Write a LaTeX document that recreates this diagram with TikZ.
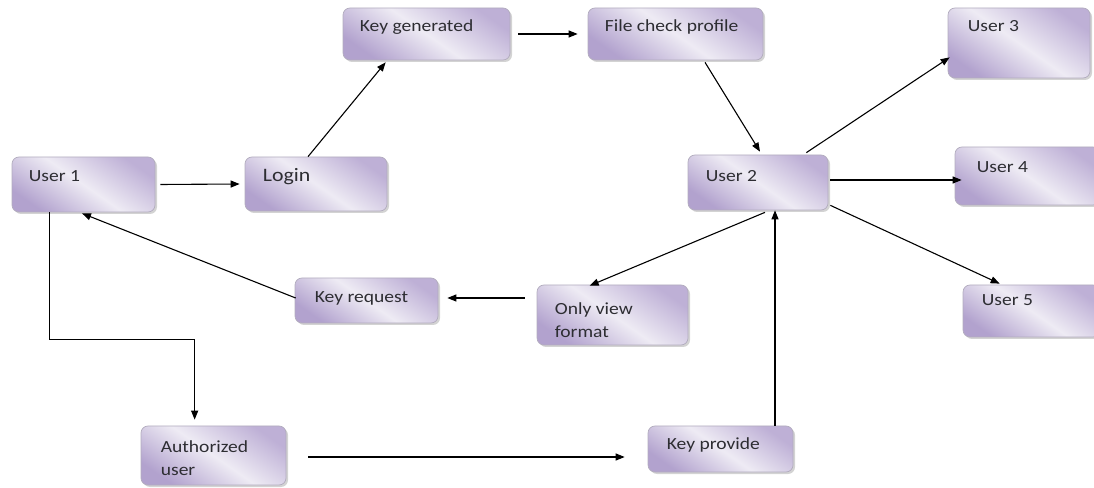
\documentclass[tikz,border=0pt]{standalone}
\usepackage{fontspec}
\setmainfont{Carlito}[FakeStretch=1.15]
\usetikzlibrary{shadows,arrows.meta,calc}
\definecolor{boxtop}{RGB}{190,176,214}
\definecolor{boxmid}{RGB}{238,235,244}
\definecolor{boxbot}{RGB}{178,162,206}
\definecolor{boxline}{RGB}{178,172,190}
\definecolor{txt}{RGB}{45,45,50}
\begin{document}
\begin{tikzpicture}[x=1pt,y=1pt,
 box/.style={rectangle, rounded corners=7pt, draw=boxline, line width=0.7pt,
   top color=boxtop, bottom color=boxbot, middle color=boxmid, shading angle=-35,
   drop shadow={shadow xshift=2pt, shadow yshift=-2pt, opacity=0.35, fill=gray},
   inner sep=0pt},
 lbl/.style={inner sep=0pt, anchor=north west, font=\fontsize{17}{23}\selectfont, text=txt, align=left},
 arr/.style={-{Triangle[length=9pt,width=7pt]}, line width=1.1pt, black}]
\useasboundingbox (0,0) rectangle (1094,487);

\node[box, minimum width=143, minimum height=55, label={[lbl,xshift=17,yshift=-14]north west:User 1}] (u1) at (83.5,302.5) {};
\node[box, minimum width=142, minimum height=54, label={[lbl,font=\fontsize{19}{23}\selectfont,xshift=18,yshift=-12]north west:Login}] (login) at (316,303) {};
\node[box, minimum width=167, minimum height=52, label={[lbl,xshift=17,yshift=-12]north west:Key generated}] (keygen) at (426.5,453) {};
\node[box, minimum width=175, minimum height=52, label={[lbl,xshift=17,yshift=-12]north west:File check profile}] (fcp) at (675.5,453) {};
\node[box, minimum width=142, minimum height=70, label={[lbl,xshift=20,yshift=-13]north west:User 3}] (u3) at (1019,444) {};
\node[box, minimum width=145, minimum height=58, label={[lbl,xshift=22,yshift=-15]north west:User 4}] (u4) at (1027.5,311) {};
\node[box, minimum width=137, minimum height=52, label={[lbl,xshift=19,yshift=-10]north west:User 5}] (u5) at (1031.5,176) {};
\node[box, minimum width=140, minimum height=55, label={[lbl,xshift=18,yshift=-16]north west:User 2}] (u2) at (758,304.5) {};
\node[box, minimum width=143, minimum height=45, label={[lbl,xshift=20,yshift=-14]north west:Key request}] (keyreq) at (366.5,186.5) {};
\node[box, minimum width=151, minimum height=60, label={[lbl,xshift=18,yshift=-18]north west:{Only view\\format}}] (onlyview) at (612.5,172) {};
\node[box, minimum width=145, minimum height=59, label={[lbl,xshift=20,yshift=-15]north west:{Authorized\\user}}] (auth) at (213.5,31.5) {};
\node[box, minimum width=145, minimum height=46, label={[lbl,xshift=19,yshift=-12]north west:Key provide}] (keyprov) at (720.5,38) {};

\draw[arr] ([xshift=5]u1.east) -- ([xshift=-5]login.west);
\draw[arr] ([xshift=-8]login.north) -- ([shift={(43,-2)}]keygen.south west);
\draw[arr] ([xshift=8]keygen.east) -- ([xshift=-10]fcp.west);
\draw[arr] ([shift={(29.5,-2)}]fcp.south) -- ([shift={(2,3)}]u2.north);
\draw[arr] ([shift={(-22,2)}]u2.north east) -- ([shift={(2,21)}]u3.south west);
\draw[arr] ([shift={(2,2.5)}]u2.east) -- ([shift={(7,-4)}]u4.west);
\draw[arr] ([shift={(2,5)}]u2.south east) -- ([shift={(37,1)}]u5.north west);
\draw[arr] ([shift={(7,-2)}]u2.south) -- ([shift={(53,-1)}]onlyview.north west);
\draw[arr] ([shift={(-12,17)}]onlyview.west) -- ([shift={(9,2.5)}]keyreq.east);
\draw[arr] ([shift={(1,2.5)}]keyreq.west) -- ([shift={(-1.5,-1)}]u1.south);
\draw[arr] ([xshift=38]u1.south west) |- ([shift={(54,86)}]auth.north west) -- ([shift={(54,6)}]auth.north west);
\draw[arr] ([shift={(22,-1.5)}]auth.east) -- ([shift={(-23,-8)}]keyprov.west);
\draw[arr] ([xshift=54.5]keyprov.north) -- ([xshift=17]u2.south);
\end{tikzpicture}
\end{document}
